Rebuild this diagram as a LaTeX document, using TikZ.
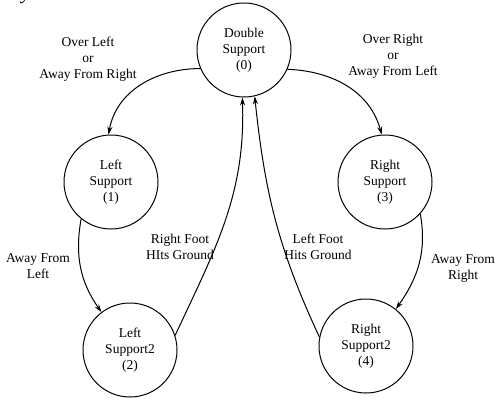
\documentclass[tikz,border=0pt]{standalone}
\usepackage{fontspec}
\setmainfont{Liberation Serif}
\usetikzlibrary{arrows.meta}
\begin{document}
\begin{tikzpicture}[x=1pt,y=-1pt,
  state/.style={circle,draw,line width=1pt,minimum size=94pt,inner sep=0pt,align=center,font=\fontsize{13.5}{16}\selectfont},
  lbl/.style={align=center,font=\fontsize{13.5}{16}\selectfont},
  edge/.style={line width=1pt,-{Stealth[length=8pt,width=5pt]}}]
\clip (0,0) rectangle (500,402);
\useasboundingbox (0,0) rectangle (500,402);
\fill[white] (0,0) rectangle (500,402);
\node[font=\itshape\fontsize{20}{20}\selectfont,anchor=base] (frag) at (26,-1) {y};
\node[state] (s0) at (244,50) {Double\\Support\\(0)};
\node[state] (s1) at (111,182) {Left\\Support\\(1)};
\node[state] (s3) at (385,182) {Right\\Support\\(3)};
\node[state] (s2) at (130,350) {Left\\Support2\\(2)};
\node[state] (s4) at (366,346) {Right\\Support2\\(4)};
\draw[edge] (s0.203) to[out=180,in=80] (s1.93);
\draw[edge] (s0.336) to[out=-2,in=105] (s3.94);
\draw[edge] (s1.231) to[out=-100,in=125] (s2.127);
\draw[edge] (s3.318) to[out=-80,in=55] (s4.51);
\draw[edge] (s2.18) to[out=65,in=-88] (s0.268);
\draw[edge] (s4.169) to[out=115,in=-84] (s0.283);
\node[lbl] (l01) at (88,59) {Over Left\\or\\Away From Right};
\node[lbl] (l03) at (393,56) {Over Right\\or\\Away From Left};
\node[lbl] (l12) at (38,266) {Away From\\Left};
\node[lbl] (l20) at (180,247) {Right Foot\\HIts Ground};
\node[lbl] (l40) at (318,247) {Left Foot\\Hits Ground};
\node[lbl] (l34) at (463,268) {Away From\\Right};
\end{tikzpicture}
\end{document}
